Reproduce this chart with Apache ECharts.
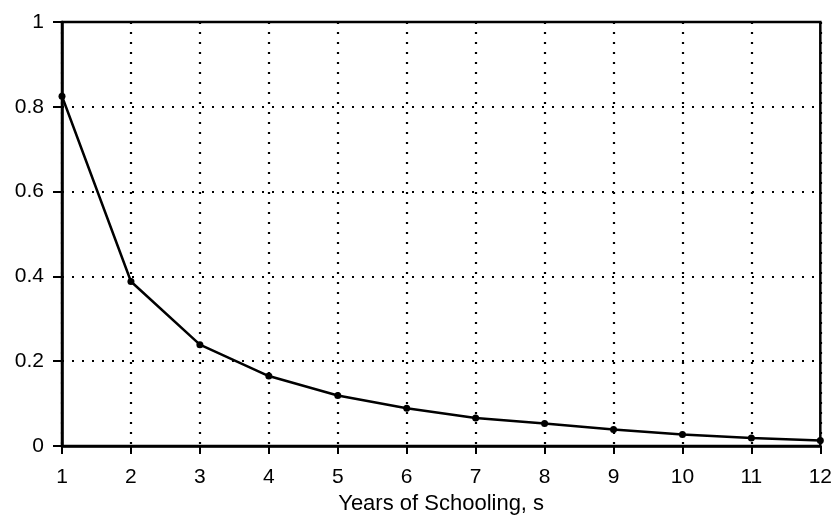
<!DOCTYPE html>
<html>
<head>
<meta charset="utf-8">
<script src="https://cdn.jsdelivr.net/npm/echarts@6/dist/echarts.min.js"></script>
<style>html,body{margin:0;padding:0;background:#fff}#c{width:835px;height:520px}</style>
</head>
<body>
<div id="c"></div>
<script>
const years = [1, 2, 3, 4, 5, 6, 7, 8, 9, 10, 11, 12];
const values = [0.825, 0.388, 0.239, 0.165, 0.119, 0.089, 0.066, 0.053, 0.039, 0.027, 0.019, 0.013];
const xTitle = 'Years of Schooling, s';

const chart = echarts.init(document.getElementById('c'), null, {renderer: 'canvas'});
const font = 'Liberation Sans';
chart.setOption({
  animation: false,
  backgroundColor: '#fff',
  grid: {left: 62, right: 13, top: 22, bottom: 70, show: true, borderColor: '#000', borderWidth: 2.5},
  xAxis: {
    type: 'value', min: 1, max: 12, interval: 1,
    name: xTitle, nameLocation: 'middle', nameGap: 47,
    nameTextStyle: {color: '#000', fontFamily: font, fontSize: 22},
    axisLine: {show: true, lineStyle: {color: '#000', width: 2.5}},
    axisTick: {show: true, length: 8, lineStyle: {color: '#000', width: 2}},
    axisLabel: {color: '#000', fontFamily: font, fontSize: 21, margin: 21},
    splitLine: {show: true, lineStyle: {color: '#000', width: 2.2, type: [2, 8]}}
  },
  yAxis: {
    type: 'value', min: 0, max: 1, interval: 0.2,
    axisLine: {show: true, lineStyle: {color: '#000', width: 2.5}},
    axisTick: {show: true, length: 9, lineStyle: {color: '#000', width: 2}},
    axisLabel: {color: '#000', fontFamily: font, fontSize: 21, margin: 18},
    splitLine: {show: true, lineStyle: {color: '#000', width: 2.2, type: [2, 8]}}
  },
  series: [{
    type: 'line',
    data: years.map((y, i) => [y, values[i]]),
    symbol: 'circle', symbolSize: 7,
    lineStyle: {color: '#000', width: 2.5},
    itemStyle: {color: '#000'}
  }]
});
</script>
</body>
</html>
